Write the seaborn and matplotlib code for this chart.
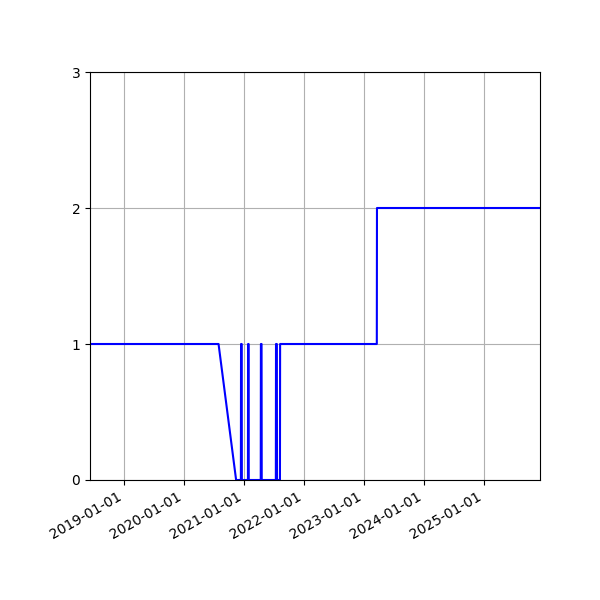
import pandas as pd
import matplotlib
matplotlib.use("Agg")
import matplotlib.pyplot as plt
import matplotlib.dates as mdates
import seaborn as sns

# change points of the status series
dates = [
    "2018-06-06", "2020-07-28", "2020-11-12",
    "2020-12-11", "2020-12-12", "2020-12-16", "2020-12-17",
    "2021-01-23", "2021-01-24", "2021-01-27", "2021-01-28",
    "2021-04-11", "2021-04-12", "2021-04-16", "2021-04-17",
    "2021-07-12", "2021-07-13", "2021-07-18", "2021-07-19",
    "2021-08-06", "2021-08-07",
    "2023-03-19", "2023-03-20", "2025-12-07",
]
values = [
    1, 1, 0,
    0, 1, 1, 0,
    0, 1, 1, 0,
    0, 1, 1, 0,
    0, 1, 1, 0,
    0, 1,
    1, 2, 2,
]
y_ticks = [0, 1, 2, 3]

df = pd.DataFrame({"date": pd.to_datetime(dates), "value": values})

fig, ax = plt.subplots(figsize=(6, 6), dpi=100)
sns.lineplot(data=df, x="date", y="value", ax=ax, color="blue",
             linewidth=1.5, estimator=None, sort=False)

ax.set_xlim(df["date"].min(), df["date"].max())
ax.set_ylim(0, 3)
ax.set_yticks(y_ticks)
ax.xaxis.set_major_locator(mdates.YearLocator())
ax.xaxis.set_major_formatter(mdates.DateFormatter("%Y-%m-%d"))
ax.set_xlabel("")
ax.set_ylabel("")
ax.grid(True)

fig.autofmt_xdate()
fig.subplots_adjust(left=0.15, right=0.9, top=0.88, bottom=0.2)
fig.savefig("out.png")
